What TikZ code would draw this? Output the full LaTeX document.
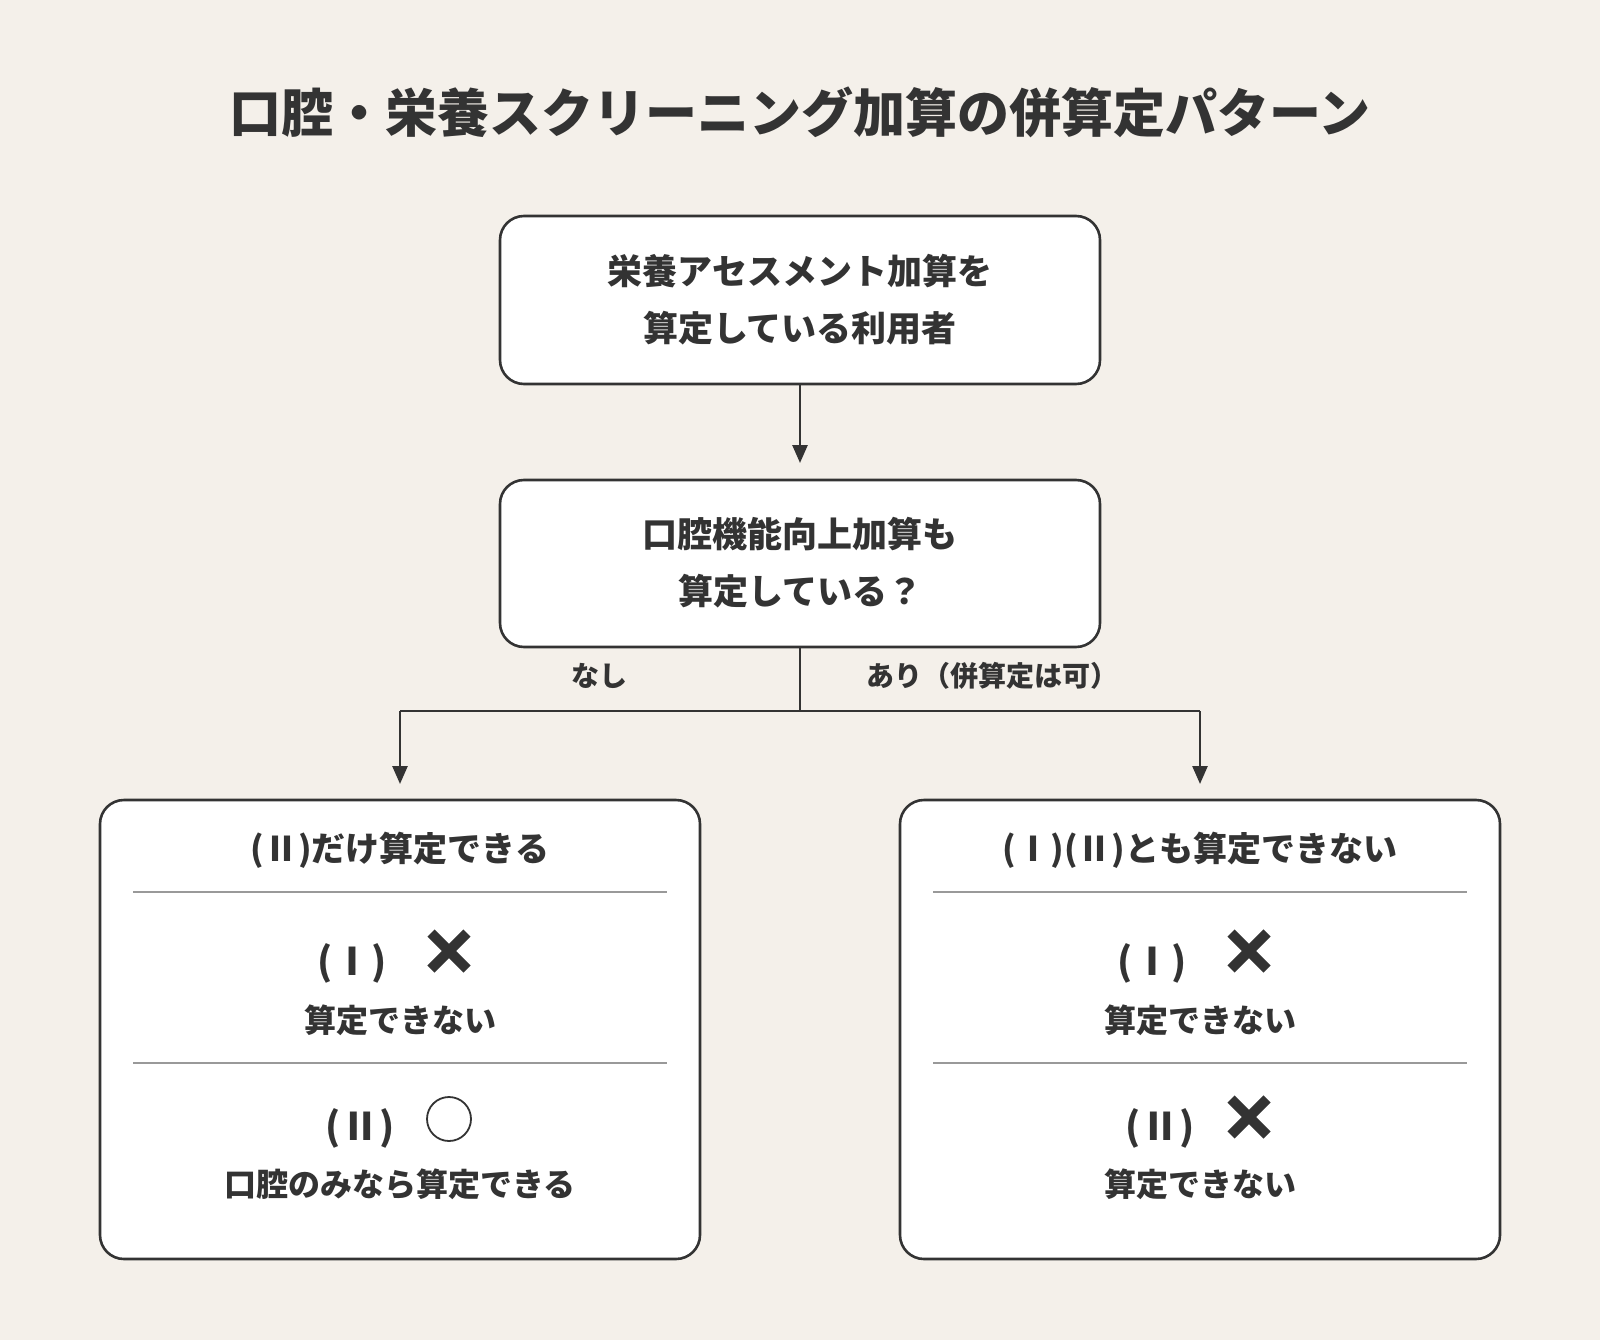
\documentclass[tikz,border=0pt]{standalone}
\usepackage{fontspec}
\setmainfont{Noto Sans CJK JP}
\usetikzlibrary{arrows.meta}
\definecolor{bg}{HTML}{F4F0EA}
\definecolor{ink}{HTML}{333333}
\definecolor{rule}{HTML}{999999}
\begin{document}
\begin{tikzpicture}[x=1pt,y=-1pt,
  box/.style={draw=ink,line width=2.6pt,rounded corners=24pt,fill=white},
  txt/.style={text=ink,font=\fontsize{34}{57}\selectfont\bfseries,align=center},
  big/.style={text=ink,font=\fontsize{35}{57}\selectfont\bfseries,align=center},
  lbl/.style={text=ink,font=\fontsize{28}{32}\selectfont\bfseries},
  arr/.style={draw=ink,line width=2.6pt,-{Triangle[length=18pt,width=15pt]}},
  div/.style={draw=rule,line width=2.4pt},
  xmark/.style={draw=ink,line width=10pt}]
\fill[bg] (0,0) rectangle (1600,1340);
\useasboundingbox (0,0) rectangle (1600,1340);
\node[text=ink,font=\fontsize{52}{60}\selectfont\bfseries] (title) at (800,112) {口腔・栄養スクリーニング加算の併算定パターン};
\draw[box] (500,216) rectangle (1100,384);
\node[big] (b1) at (800,300) {栄養アセスメント加算を\\算定している利用者};
\draw[box] (500,480) rectangle (1100,647);
\node[big] (b2) at (800,563) {口腔機能向上加算も\\算定している？};
\coordinate (b1s) at (800,384); \coordinate (b2n) at (800,463);
\draw[arr] (b1s) -- (b2n);
\coordinate (b2s) at (800,647); \coordinate (j) at (800,711);
\coordinate (jl) at (400,711); \coordinate (jr) at (1200,711);
\coordinate (lt) at (400,784); \coordinate (rt) at (1200,784);
\draw[ink,line width=2.6pt] (b2s) -- (j) (jl) -- (jr);
\draw[arr] (jl) -- (lt);
\draw[arr] (jr) -- (rt);
\node[lbl] (nashi) at (599,676) {なし};
\node[lbl] (ari) at (992,676) {あり（併算定は可）};
\foreach \dx/\head/\mtwo/\ttwo in {0/{(Ⅱ)だけ算定できる}/o/{口腔のみなら算定できる},800/{(Ⅰ)(Ⅱ)とも算定できない}/x/{算定できない}}{
  \begin{scope}[xshift=\dx]
  \draw[box] (100,800) rectangle (700,1259);
  \node[txt] at (400,850) {\head};
  \draw[div] (133,892) -- (667,892);
  \draw[div] (133,1063) -- (667,1063);
  \node[txt,font=\fontsize{38}{40}\selectfont\bfseries] at (352,963) {(Ⅰ)};
  \draw[xmark] (431,933) -- (467,969) (467,933) -- (431,969);
  \node[txt,font=\fontsize{32}{40}\selectfont\bfseries] at (400,1020) {算定できない};
  \node[txt,font=\fontsize{38}{40}\selectfont\bfseries] at (360,1128) {(Ⅱ)};
  \if\mtwo o
    \draw[ink,line width=1.8pt] (449,1119) circle (22);
  \else
    \draw[xmark] (431,1099) -- (467,1135) (467,1099) -- (431,1135);
  \fi
  \node[txt,font=\fontsize{32}{40}\selectfont\bfseries] at (400,1184) {\ttwo};
  \end{scope}
}
\end{tikzpicture}
\end{document}
